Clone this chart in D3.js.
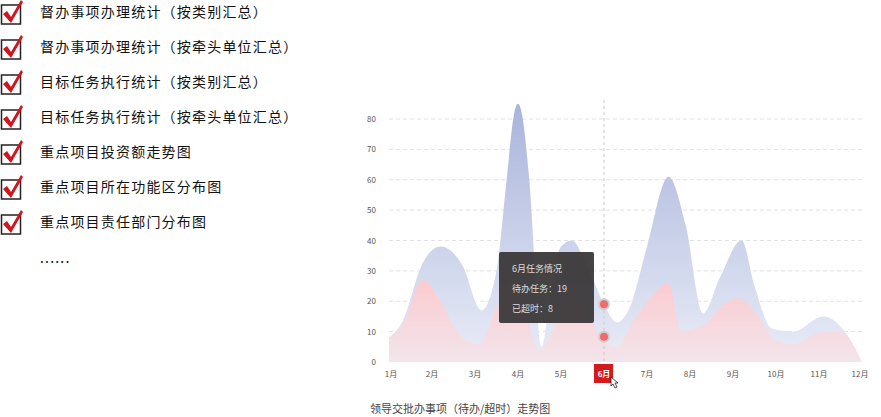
<!DOCTYPE html><html><head><meta charset="utf-8"><script src="https://cdn.jsdelivr.net/npm/d3@7"></script>
<style>body{margin:0;background:#fff;font-family:"Noto Sans CJK SC",sans-serif}</style></head><body><svg id="c" width="881" height="417"></svg>
<script>
const listItems=["督办事项办理统计（按类别汇总）","督办事项办理统计（按牵头单位汇总）","目标任务执行统计（按类别汇总）","目标任务执行统计（按牵头单位汇总）","重点项目投资额走势图","重点项目所在功能区分布图","重点项目责任部门分布图"];
const months=["1月","2月","3月","4月","5月","6月","7月","8月","9月","10月","11月","12月"];
const yTicks=[0,10,20,30,40,50,60,70,80];
const pendingX=[1,1.3,1.8,2.2,2.7,3.15,3.5,3.75,3.9,4,4.1,4.25,4.55,4.8,5,5.25,5.6,6,6.3,6.6,7,7.5,7.9,8.3,8.7,9.2,9.5,9.9,10.4,11.1,11.6,12];
const pendingV=[8,13,33,38,32,17,30,62,81,85,81,62,5,28,38,40,32,19,13,18,38,61,45,16,28,40,25,11,10,15,10,0];
const overX=[1,1.3,1.8,2.2,2.7,3.1,3.5,3.9,4.2,4.5,4.8,5.2,5.6,6,6.3,6.7,7.2,7.5,7.8,8.3,8.8,9.1,9.6,10,10.4,11.1,11.5,12];
const overV=[8,12,27,20,8,6,18,28,15,4,10,24,16,7,5,14,23,26,10,12,19,21,15,7,6,10,10,0];
const svg=d3.select("#c");
const g0=svg.append("g");
listItems.concat(["......"]).forEach((t,i)=>{
  const cy=i<7?12+i*35:258;
  if(i<7){
    g0.append("rect").attr("x",1.5).attr("y",cy-7).attr("width",19).attr("height",19).attr("fill","#fff").attr("stroke","#222").attr("stroke-width",1.5);
    g0.append("path").attr("d",`M3,${cy+2} L7,${cy-1} L11,${cy+5} L21,${cy-12} L23,${cy-10} L11,${cy+11} Z`).attr("fill","#d0151e");
  }
  g0.append("text").attr("x",40).attr("y",cy+5).attr("font-size",14).attr("letter-spacing",1.2).attr("fill","#111").text(t);
});
const x=d3.scaleLinear().domain([1,12]).range([389,862]);
const y=d3.scaleLinear().domain([0,80]).range([362,119]);
const defs=svg.append("defs");
function grad(id,c1,c2){const gr=defs.append("linearGradient").attr("id",id).attr("x1",0).attr("y1",0).attr("x2",0).attr("y2",1);
 gr.append("stop").attr("offset","0").attr("stop-color",c1);gr.append("stop").attr("offset","1").attr("stop-color",c2);}
grad("gb","#a9b4db","#e9ecf7");grad("gr","#ffc8cb","#f4e4ea");
const gg=svg.append("g");
yTicks.forEach(v=>{
  if(v>0)gg.append("line").attr("x1",389).attr("x2",862).attr("y1",y(v)).attr("y2",y(v)).attr("stroke","#e2e2e6").attr("stroke-dasharray","4,3");
  gg.append("text").attr("x",376).attr("y",y(v)+3).attr("text-anchor","end").attr("font-size",8).attr("fill","#555").text(v);
});
const area=(xs,vs)=>d3.area().x((d,i)=>x(xs[i])).y0(y(0)).y1(d=>y(d)).curve(d3.curveMonotoneX)(vs);
svg.append("path").attr("d",area(pendingX,pendingV)).attr("fill","url(#gb)");
svg.append("path").attr("d",area(overX,overV)).attr("fill","url(#gr)").attr("opacity",0.9);
svg.append("line").attr("x1",x(6)).attr("x2",x(6)).attr("y1",100).attr("y2",362).attr("stroke","#ccc").attr("stroke-dasharray","3,3");
months.forEach((m,i)=>{
  const cx=x(i+1)+(i==0?2:i==11?-2:0);
  if(i==5)svg.append("rect").attr("x",cx-10).attr("y",364).attr("width",19).attr("height",19).attr("fill","#d41a1f");
  svg.append("text").attr("x",cx).attr("y",377).attr("text-anchor","middle").attr("font-size",8).attr("font-weight",i==5?"bold":"normal").attr("fill",i==5?"#fff":"#555").text(m);
});
[19,8].forEach(v=>{
  svg.append("circle").attr("cx",x(6)).attr("cy",y(v)+(v==8?-1:0)).attr("r",5).attr("fill","#f06a6e").attr("stroke","#cfcfcf").attr("stroke-width",2);
});
svg.append("rect").attr("x",499).attr("y",252).attr("width",95).attr("height",71).attr("rx",2).attr("fill","#3b3839").attr("opacity",0.95);
[["6月任务情况",272],["待办任务：19",292],["已超时：8",312]].forEach(([t,yy])=>svg.append("text").attr("x",512).attr("y",yy).attr("font-size",9).attr("fill","#ddd").text(t));
svg.append("path").attr("d","M611,377 l0,9 l2,-2 l2,4 l2,-1 l-2,-4 l3,0 Z").attr("fill","#fff").attr("stroke","#222").attr("stroke-width",0.8);
svg.append("text").attr("x",370).attr("y",413).attr("font-size",11).attr("fill","#444").text("领导交批办事项（待办/超时）走势图");
</script></body></html>
